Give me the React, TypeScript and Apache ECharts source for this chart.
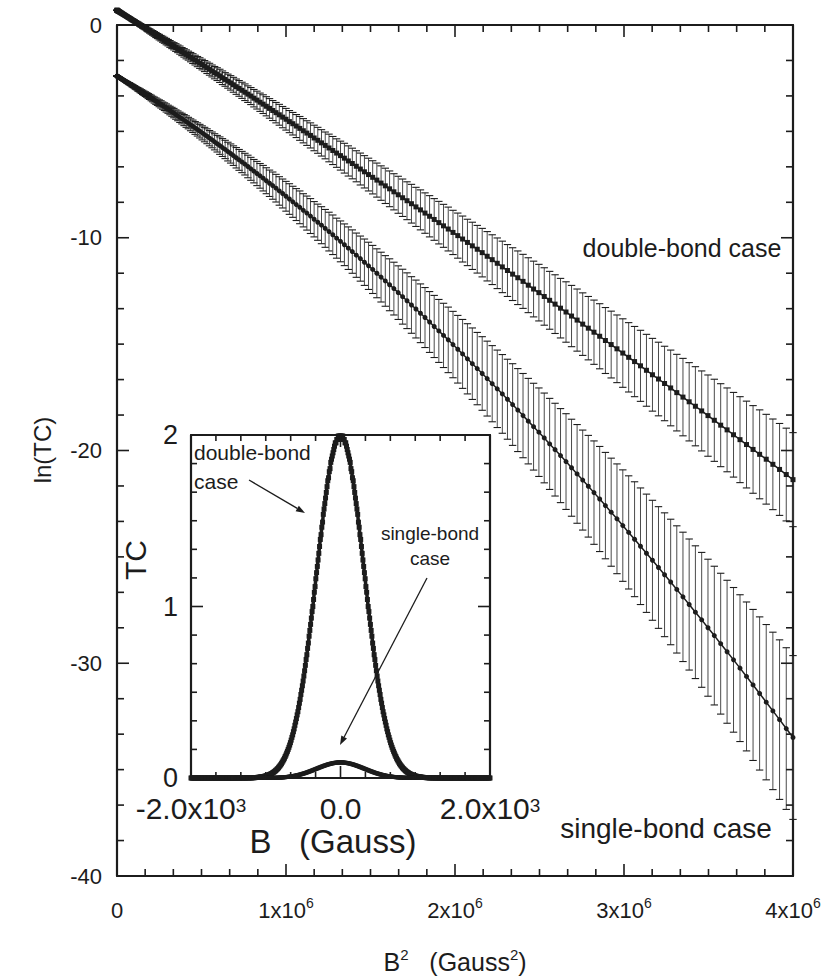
import React, { useEffect, useRef } from "react";
import * as echarts from "echarts";

// Field values B (Gauss) at which the curves were sampled
const B_FIELD = [
  0, 10, 20, 30, 40, 50, 60, 70, 80, 90, 100, 110, 120, 130, 140, 150, 160, 170, 180, 190,
  200, 210, 220, 230, 240, 250, 260, 270, 280, 290, 300, 310, 320, 330, 340, 350, 360, 370, 380, 390,
  400, 410, 420, 430, 440, 450, 460, 470, 480, 490, 500, 510, 520, 530, 540, 550, 560, 570, 580, 590,
  600, 610, 620, 630, 640, 650, 660, 670, 680, 690, 700, 710, 720, 730, 740, 750, 760, 770, 780, 790,
  800, 810, 820, 830, 840, 850, 860, 870, 880, 890, 900, 910, 920, 930, 940, 950, 960, 970, 980, 990,
  1000, 1010, 1020, 1030, 1040, 1050, 1060, 1070, 1080, 1090, 1100, 1110, 1120, 1130, 1140, 1150, 1160, 1170, 1180, 1190,
  1200, 1210, 1220, 1230, 1240, 1250, 1260, 1270, 1280, 1290, 1300, 1310, 1320, 1330, 1340, 1350, 1360, 1370, 1380, 1390,
  1400, 1410, 1420, 1430, 1440, 1450, 1460, 1470, 1480, 1490, 1500, 1510, 1520, 1530, 1540, 1550, 1560, 1570, 1580, 1590,
  1600, 1610, 1620, 1630, 1640, 1650, 1660, 1670, 1680, 1690, 1700, 1710, 1720, 1730, 1740, 1750, 1760, 1770, 1780, 1790,
  1800, 1810, 1820, 1830, 1840, 1850, 1860, 1870, 1880, 1890, 1900, 1910, 1920, 1930, 1940, 1950, 1960, 1970, 1980, 1990,
  2000,
];

// ln(TC), double-bond case
const LN_DOUBLE = [
  0.69, 0.69, 0.69, 0.69, 0.68, 0.68, 0.67, 0.67, 0.66, 0.65, 0.64,
  0.63, 0.62, 0.61, 0.59, 0.58, 0.56, 0.55, 0.53, 0.51, 0.49,
  0.47, 0.45, 0.43, 0.4, 0.38, 0.35, 0.33, 0.3, 0.27, 0.24,
  0.21, 0.18, 0.15, 0.11, 0.08, 0.04, 0.0, -0.03, -0.07, -0.11,
  -0.15, -0.19, -0.24, -0.28, -0.33, -0.37, -0.42, -0.47, -0.52, -0.57,
  -0.62, -0.67, -0.72, -0.78, -0.83, -0.89, -0.95, -1.0, -1.06, -1.12,
  -1.18, -1.25, -1.31, -1.38, -1.44, -1.51, -1.58, -1.65, -1.72, -1.79,
  -1.86, -1.93, -2.01, -2.08, -2.16, -2.24, -2.31, -2.39, -2.48, -2.56,
  -2.64, -2.72, -2.81, -2.9, -2.98, -3.07, -3.16, -3.25, -3.34, -3.44,
  -3.53, -3.63, -3.72, -3.82, -3.92, -4.02, -4.12, -4.22, -4.33, -4.43,
  -4.54, -4.64, -4.75, -4.86, -4.97, -5.08, -5.19, -5.31, -5.42, -5.54,
  -5.66, -5.78, -5.9, -6.02, -6.14, -6.26, -6.39, -6.51, -6.64, -6.77,
  -6.9, -7.03, -7.16, -7.29, -7.43, -7.56, -7.7, -7.84, -7.98, -8.12,
  -8.26, -8.4, -8.55, -8.69, -8.84, -8.99, -9.14, -9.29, -9.44, -9.59,
  -9.75, -9.9, -10.06, -10.22, -10.38, -10.54, -10.7, -10.87, -11.03, -11.2,
  -11.37, -11.54, -11.71, -11.88, -12.05, -12.23, -12.41, -12.58, -12.76, -12.94,
  -13.12, -13.31, -13.49, -13.68, -13.87, -14.06, -14.25, -14.44, -14.63, -14.83,
  -15.02, -15.22, -15.42, -15.62, -15.82, -16.02, -16.23, -16.44, -16.64, -16.85,
  -17.06, -17.28, -17.49, -17.71, -17.92, -18.14, -18.36, -18.58, -18.81, -19.03,
  -19.26, -19.49, -19.72, -19.95, -20.18, -20.41, -20.65, -20.89, -21.13, -21.37,
];
const ERR_DOUBLE = [
  0, 0, 0, 0, 0, 0, 0, 0, 0, 0, 0,
  0.01, 0.01, 0.01, 0.01, 0.01, 0.01, 0.01, 0.02, 0.02, 0.02,
  0.02, 0.02, 0.03, 0.03, 0.03, 0.03, 0.04, 0.04, 0.04, 0.05,
  0.05, 0.05, 0.05, 0.06, 0.06, 0.06, 0.07, 0.07, 0.08, 0.08,
  0.08, 0.09, 0.09, 0.1, 0.1, 0.11, 0.11, 0.12, 0.12, 0.13,
  0.13, 0.14, 0.14, 0.15, 0.15, 0.16, 0.16, 0.17, 0.18, 0.18,
  0.19, 0.19, 0.2, 0.21, 0.21, 0.22, 0.23, 0.23, 0.24, 0.25,
  0.25, 0.26, 0.27, 0.28, 0.28, 0.29, 0.3, 0.31, 0.32, 0.32,
  0.33, 0.34, 0.35, 0.36, 0.37, 0.38, 0.39, 0.39, 0.4, 0.41,
  0.42, 0.43, 0.44, 0.45, 0.46, 0.47, 0.48, 0.49, 0.5, 0.51,
  0.52, 0.53, 0.54, 0.56, 0.57, 0.58, 0.59, 0.6, 0.61, 0.62,
  0.63, 0.65, 0.66, 0.67, 0.68, 0.7, 0.71, 0.72, 0.73, 0.75,
  0.76, 0.77, 0.78, 0.8, 0.81, 0.83, 0.84, 0.85, 0.87, 0.88,
  0.89, 0.91, 0.92, 0.94, 0.95, 0.97, 0.98, 1.0, 1.01, 1.03,
  1.04, 1.06, 1.08, 1.09, 1.11, 1.12, 1.14, 1.16, 1.17, 1.19,
  1.21, 1.22, 1.24, 1.26, 1.27, 1.29, 1.31, 1.33, 1.35, 1.36,
  1.38, 1.4, 1.42, 1.44, 1.46, 1.47, 1.49, 1.51, 1.53, 1.55,
  1.57, 1.59, 1.61, 1.63, 1.65, 1.67, 1.69, 1.71, 1.73, 1.75,
  1.78, 1.8, 1.82, 1.84, 1.86, 1.88, 1.91, 1.93, 1.95, 1.97,
  1.99, 2.02, 2.04, 2.06, 2.09, 2.11, 2.13, 2.16, 2.18, 2.21,
];

// ln(TC), single-bond case
const LN_SINGLE = [
  -2.4, -2.4, -2.4, -2.4, -2.41, -2.41, -2.42, -2.42, -2.43, -2.44, -2.45,
  -2.46, -2.47, -2.48, -2.5, -2.51, -2.53, -2.54, -2.56, -2.58, -2.6,
  -2.62, -2.64, -2.66, -2.69, -2.71, -2.74, -2.76, -2.79, -2.82, -2.85,
  -2.88, -2.91, -2.95, -2.98, -3.02, -3.05, -3.09, -3.13, -3.17, -3.21,
  -3.25, -3.29, -3.34, -3.38, -3.43, -3.48, -3.53, -3.58, -3.63, -3.68,
  -3.73, -3.79, -3.84, -3.9, -3.96, -4.02, -4.08, -4.14, -4.21, -4.27,
  -4.34, -4.4, -4.47, -4.54, -4.61, -4.69, -4.76, -4.84, -4.91, -4.99,
  -5.07, -5.15, -5.23, -5.32, -5.4, -5.49, -5.58, -5.67, -5.76, -5.85,
  -5.95, -6.04, -6.14, -6.24, -6.34, -6.44, -6.54, -6.65, -6.76, -6.87,
  -6.98, -7.09, -7.2, -7.32, -7.44, -7.55, -7.67, -7.8, -7.92, -8.05,
  -8.18, -8.31, -8.44, -8.57, -8.71, -8.84, -8.98, -9.13, -9.27, -9.41,
  -9.56, -9.71, -9.86, -10.02, -10.17, -10.33, -10.49, -10.65, -10.82, -10.98,
  -11.15, -11.32, -11.49, -11.67, -11.85, -12.03, -12.21, -12.39, -12.58, -12.77,
  -12.96, -13.16, -13.35, -13.55, -13.75, -13.96, -14.17, -14.38, -14.59, -14.8,
  -15.02, -15.24, -15.46, -15.69, -15.92, -16.15, -16.38, -16.62, -16.86, -17.1,
  -17.34, -17.59, -17.84, -18.1, -18.36, -18.62, -18.88, -19.14, -19.41, -19.69,
  -19.96, -20.24, -20.52, -20.81, -21.1, -21.39, -21.68, -21.98, -22.28, -22.59,
  -22.9, -23.21, -23.53, -23.85, -24.17, -24.5, -24.83, -25.16, -25.5, -25.84,
  -26.18, -26.53, -26.88, -27.24, -27.6, -27.96, -28.33, -28.7, -29.08, -29.46,
  -29.84, -30.23, -30.62, -31.02, -31.42, -31.83, -32.24, -32.65, -33.07, -33.49,
];
const ERR_SINGLE = [
  0, 0, 0, 0, 0, 0, 0, 0, 0, 0, 0.01,
  0.01, 0.01, 0.01, 0.01, 0.01, 0.02, 0.02, 0.02, 0.02, 0.02,
  0.03, 0.03, 0.03, 0.04, 0.04, 0.04, 0.05, 0.05, 0.05, 0.06,
  0.06, 0.06, 0.07, 0.07, 0.08, 0.08, 0.09, 0.09, 0.1, 0.1,
  0.11, 0.11, 0.12, 0.12, 0.13, 0.13, 0.14, 0.15, 0.15, 0.16,
  0.17, 0.17, 0.18, 0.19, 0.19, 0.2, 0.21, 0.22, 0.22, 0.23,
  0.24, 0.25, 0.26, 0.27, 0.27, 0.28, 0.29, 0.3, 0.31, 0.32,
  0.33, 0.34, 0.35, 0.36, 0.37, 0.38, 0.39, 0.41, 0.42, 0.43,
  0.44, 0.45, 0.46, 0.48, 0.49, 0.5, 0.51, 0.53, 0.54, 0.55,
  0.57, 0.58, 0.6, 0.61, 0.62, 0.64, 0.65, 0.67, 0.68, 0.7,
  0.72, 0.73, 0.75, 0.77, 0.78, 0.8, 0.82, 0.83, 0.85, 0.87,
  0.89, 0.91, 0.93, 0.94, 0.96, 0.98, 1.0, 1.02, 1.04, 1.06,
  1.09, 1.11, 1.13, 1.15, 1.17, 1.19, 1.22, 1.24, 1.26, 1.29,
  1.31, 1.33, 1.36, 1.38, 1.41, 1.43, 1.46, 1.48, 1.51, 1.54,
  1.56, 1.59, 1.62, 1.65, 1.68, 1.7, 1.73, 1.76, 1.79, 1.82,
  1.85, 1.88, 1.92, 1.95, 1.98, 2.01, 2.04, 2.08, 2.11, 2.14,
  2.18, 2.21, 2.25, 2.28, 2.32, 2.35, 2.39, 2.43, 2.47, 2.5,
  2.54, 2.58, 2.62, 2.66, 2.7, 2.74, 2.78, 2.82, 2.86, 2.91,
  2.95, 2.99, 3.04, 3.08, 3.12, 3.17, 3.22, 3.26, 3.31, 3.36,
  3.4, 3.45, 3.5, 3.55, 3.6, 3.65, 3.7, 3.75, 3.8, 3.85,
];

const MAIN_X_TICKS = [0, 1e6, 2e6, 3e6, 4e6];
const MAIN_X_LABELS = ["0", "1x10|6", "2x10|6", "3x10|6", "4x10|6"];
const INSET_X_TICKS = [-2000, 0, 2000];
const INSET_X_LABELS = ["-2.0x10|3", "0.0", "2.0x10|3"];

const FONT = "'Liberation Sans', Arial, Helvetica, sans-serif";
const INK = "#1c1c1c";

function supLabel(lbl: string) {
  const parts = lbl.split("|");
  return parts.length > 1 ? `{b|${parts[0]}}{s|${parts[1]}}` : `{b|${parts[0]}}`;
}

function makeAxis(grid: number, pos: string, min: number, max: number, interval: number, showLabel: boolean, labelOpt: any) {
  return {
    type: "value",
    gridIndex: grid,
    position: pos,
    min,
    max,
    interval,
    axisLine: { show: true, onZero: false, lineStyle: { color: INK, width: 2.2 } },
    axisTick: { show: false },
    minorTick: { show: false },
    splitLine: { show: false },
    axisLabel: showLabel
      ? { show: true, showMinLabel: true, showMaxLabel: true, color: INK, fontFamily: FONT, ...labelOpt }
      : { show: false },
  };
}

// Tick marks drawn inward on the four sides of a frame (axis decoration)
function tickSeries(xi: number, yi: number, xr: number[], yr: number[], sub: number, majLen: number, minLen: number) {
  const data: number[][] = [];
  const [x0, x1, xs] = xr;
  const [y0, y1, ys] = yr;
  const nx = Math.round((x1 - x0) / xs) * sub;
  for (let i = 0; i <= nx; i++) {
    const v = x0 + (i * xs) / sub;
    const m = i % sub === 0 ? 1 : 0;
    data.push([v, y0, 0, m], [v, y1, 1, m]);
  }
  const ny = Math.round((y1 - y0) / ys) * sub;
  for (let i = 0; i <= ny; i++) {
    const v = y0 + (i * ys) / sub;
    const m = i % sub === 0 ? 1 : 0;
    data.push([x0, v, 2, m], [x1, v, 3, m]);
  }
  return {
    type: "custom",
    xAxisIndex: xi,
    yAxisIndex: yi,
    clip: false,
    silent: true,
    z: 6,
    encode: { x: 0, y: 1 },
    data,
    renderItem: (params: any, api: any) => {
      const p = api.coord([api.value(0), api.value(1)]);
      const side = api.value(2);
      const len = api.value(3) ? majLen : minLen;
      let x2 = p[0], y2 = p[1];
      if (side === 0) y2 -= len;
      else if (side === 1) y2 += len;
      else if (side === 2) x2 += len;
      else x2 -= len;
      return { type: "line", shape: { x1: p[0], y1: p[1], x2, y2 }, style: { stroke: INK, lineWidth: 1.6 } };
    },
  };
}

function errorSeries(name: string, ys: number[], errs: number[]) {
  return {
    name,
    type: "custom",
    xAxisIndex: 0,
    yAxisIndex: 0,
    clip: false,
    silent: true,
    z: 2,
    encode: { x: 0, y: [1, 2] },
    data: B_FIELD.map((b, i) => [b * b, ys[i] - errs[i], ys[i] + errs[i]]),
    renderItem: (params: any, api: any) => {
      const x = api.value(0);
      const lo = api.coord([x, api.value(1)]);
      const hi = api.coord([x, api.value(2)]);
      const w = 3.7;
      return {
        type: "group",
        children: [
          { type: "line", shape: { x1: lo[0], y1: lo[1], x2: hi[0], y2: hi[1] }, style: { stroke: "#4a4a4a", lineWidth: 1 } },
          { type: "line", shape: { x1: lo[0] - w, y1: lo[1], x2: lo[0] + w, y2: lo[1] }, style: { stroke: INK, lineWidth: 1.1 } },
          { type: "line", shape: { x1: hi[0] - w, y1: hi[1], x2: hi[0] + w, y2: hi[1] }, style: { stroke: INK, lineWidth: 1.1 } },
        ],
      };
    },
  };
}

function arrow(x1: number, y1: number, x2: number, y2: number) {
  const a = Math.atan2(y2 - y1, x2 - x1);
  const L = 9, W = 3.2;
  const bx = x2 - L * Math.cos(a), by = y2 - L * Math.sin(a);
  return [
    { type: "line", shape: { x1, y1, x2: bx, y2: by }, style: { stroke: INK, lineWidth: 1.3 }, z: 10 },
    {
      type: "polygon",
      shape: { points: [[x2, y2], [bx + W * Math.sin(a), by - W * Math.cos(a)], [bx - W * Math.sin(a), by + W * Math.cos(a)]] },
      style: { fill: INK },
      z: 10,
    },
  ];
}

function text(x: number, y: number, t: string, fontSize: number, extra: any = {}) {
  const { style: extraStyle, ...rest } = extra;
  return {
    type: "text",
    x,
    y,
    z: 10,
    ...rest,
    style: {
      text: t,
      fill: INK,
      fontFamily: FONT,
      fontSize,
      textAlign: "center",
      textVerticalAlign: "middle",
      verticalAlign: "middle",
      ...(extraStyle || {}),
    },
  };
}

export default function App() {
  const ref = useRef<HTMLDivElement>(null);
  useEffect(() => {
    const chart = echarts.init(ref.current!, undefined, { renderer: "svg" });

    // Inset: same data shown as TC versus B (both signs of B)
    const n = B_FIELD.length;
    const insetDouble: number[][] = [];
    const insetSingle: number[][] = [];
    for (let i = n - 1; i >= 1; i--) {
      insetDouble.push([-B_FIELD[i], Math.exp(LN_DOUBLE[i])]);
      insetSingle.push([-B_FIELD[i], Math.exp(LN_SINGLE[i])]);
    }
    for (let i = 0; i < n; i++) {
      insetDouble.push([B_FIELD[i], Math.exp(LN_DOUBLE[i])]);
      insetSingle.push([B_FIELD[i], Math.exp(LN_SINGLE[i])]);
    }

    const mainXLabel = {
      margin: 20,
      formatter: (v: number) => supLabel(MAIN_X_LABELS[MAIN_X_TICKS.indexOf(v)] ?? ""),
      rich: {
        b: { fontSize: 22, fontFamily: FONT, color: INK, lineHeight: 28 },
        s: { fontSize: 14, fontFamily: FONT, color: INK, verticalAlign: "top", lineHeight: 28 },
      },
    };
    const insetXLabel = {
      margin: 18,
      formatter: (v: number) => supLabel(INSET_X_LABELS[INSET_X_TICKS.indexOf(v)] ?? ""),
      rich: {
        b: { fontSize: 30, fontFamily: FONT, color: INK, lineHeight: 24 },
        s: { fontSize: 19, fontFamily: FONT, color: INK, verticalAlign: "top", lineHeight: 24, padding: [0, 0, 8, 0] },
      },
    };

    const option: any = {
      animation: false,
      backgroundColor: "#fff",
      grid: [
        { left: 117, top: 25, width: 676, height: 851 },
        { left: 191, top: 435, width: 299, height: 343, show: true, backgroundColor: "#fff", borderWidth: 0 },
      ],
      xAxis: [
        makeAxis(0, "bottom", 0, 4e6, 1e6, true, mainXLabel),
        makeAxis(0, "top", 0, 4e6, 1e6, false, {}),
        makeAxis(1, "bottom", -2000, 2000, 2000, true, insetXLabel),
        makeAxis(1, "top", -2000, 2000, 2000, false, {}),
      ],
      yAxis: [
        makeAxis(0, "left", -40, 0, 10, true, { fontSize: 22, margin: 15 }),
        makeAxis(0, "right", -40, 0, 10, false, {}),
        makeAxis(1, "left", 0, 2, 1, true, { fontSize: 27, lineHeight: 20, margin: 13 }),
        makeAxis(1, "right", 0, 2, 1, false, {}),
      ],
      series: [
        tickSeries(0, 0, [0, 4e6, 1e6], [-40, 0, 10], 6, 12, 7),
        tickSeries(2, 2, [-2000, 2000, 2000], [0, 2, 1], 6, 12, 6),
        errorSeries("err-double", LN_DOUBLE, ERR_DOUBLE),
        errorSeries("err-single", LN_SINGLE, ERR_SINGLE),
        {
          name: "double-bond case",
          type: "line",
          xAxisIndex: 0,
          yAxisIndex: 0,
          clip: false,
          z: 3,
          data: B_FIELD.map((b, i) => [b * b, LN_DOUBLE[i]]),
          symbol: "rect",
          symbolSize: 5,
          itemStyle: { color: INK },
          lineStyle: { color: INK, width: 1.5 },
        },
        {
          name: "single-bond case",
          type: "line",
          xAxisIndex: 0,
          yAxisIndex: 0,
          clip: false,
          z: 3,
          data: B_FIELD.map((b, i) => [b * b, LN_SINGLE[i]]),
          symbol: "circle",
          symbolSize: 5,
          itemStyle: { color: INK },
          lineStyle: { color: INK, width: 1.5 },
        },
        {
          name: "inset double",
          type: "line",
          xAxisIndex: 2,
          yAxisIndex: 2,
          clip: false,
          z: 3,
          data: insetDouble,
          symbol: "rect",
          symbolSize: 5,
          itemStyle: { color: INK },
          lineStyle: { color: INK, width: 3.5 },
        },
        {
          name: "inset single",
          type: "line",
          xAxisIndex: 2,
          yAxisIndex: 2,
          clip: false,
          z: 3,
          data: insetSingle,
          symbol: "rect",
          symbolSize: 4,
          itemStyle: { color: INK },
          lineStyle: { color: INK, width: 3.5 },
        },
      ],
      graphic: [
        text(42, 450, "ln(TC)", 24, { rotation: Math.PI / 2 }),
        text(455, 962, "{n|B}{s|2}{n|   (Gauss}{s|2}{n|)}", 25, {
          style: {
            rich: {
              n: { fontSize: 25, fontFamily: FONT, fill: INK, lineHeight: 30 },
              s: { fontSize: 15, fontFamily: FONT, fill: INK, verticalAlign: "top", lineHeight: 30 },
            },
          },
        }),
        text(682, 248, "double-bond case", 25),
        text(666, 828, "single-bond case", 28),
        text(135, 560, "TC", 30, { rotation: Math.PI / 2 }),
        text(333, 841, "B   (Gauss)", 33),
        text(194, 467, "double-bond\ncase", 21, { style: { textAlign: "left", lineHeight: 29 } }),
        text(430, 546, "single-bond\ncase", 19, { style: { lineHeight: 25 } }),
        ...arrow(249, 480, 305, 513),
        ...arrow(427, 578, 340, 745),
      ],
    };
    chart.setOption(option);
    return () => chart.dispose();
  }, []);
  return <div ref={ref} style={{ position: "absolute", left: 0, top: 0, width: 826, height: 978, background: "#fff" }} />;
}
